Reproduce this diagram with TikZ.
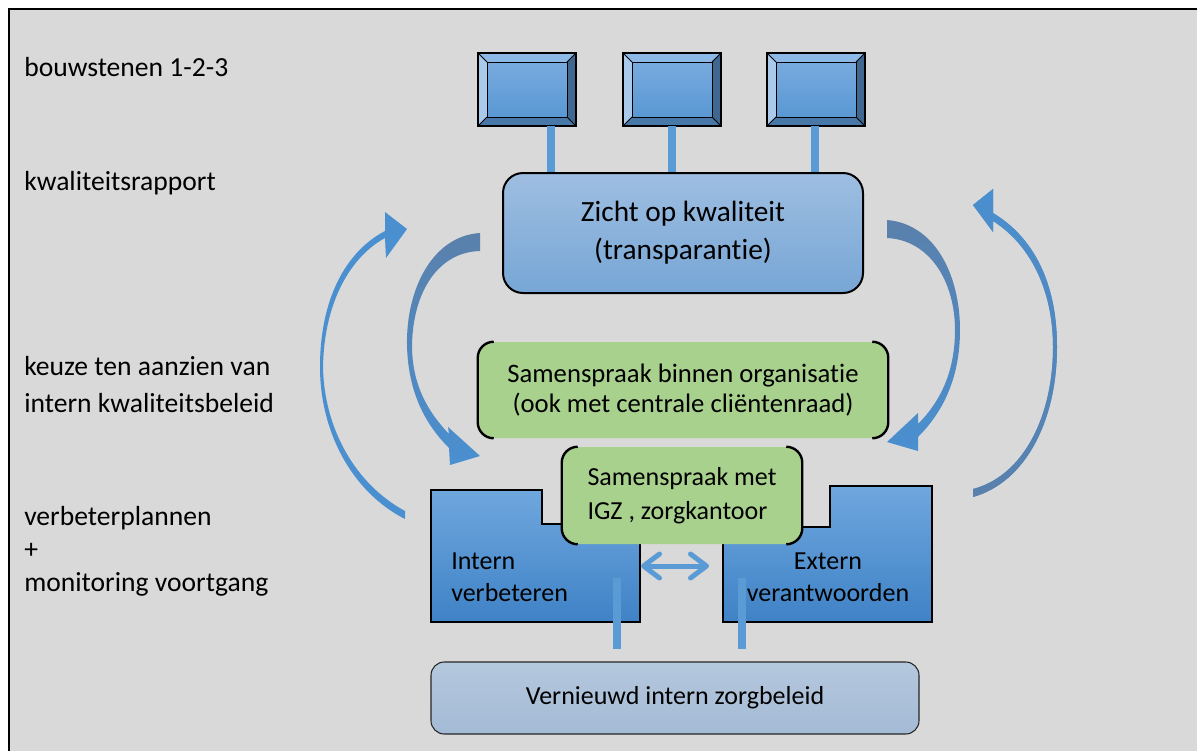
\documentclass[tikz,border=0pt]{standalone}
\usepackage{fontspec}
\setmainfont{Carlito}[Ligatures={NoCommon}]
\usetikzlibrary{positioning, arrows.meta}

\definecolor{achtergrond}{HTML}{D9D9D9}
\definecolor{steel}{HTML}{5B9BD5}
\definecolor{boogblauw}{HTML}{4A8FD0}
\definecolor{boogdonker}{HTML}{5A80AB}
\definecolor{zichtboven}{HTML}{9EBEE1}
\definecolor{zichtonder}{HTML}{77A6D5}
\definecolor{groen}{HTML}{A9D18E}
\definecolor{mapboven}{HTML}{6FA7DE}
\definecolor{maponder}{HTML}{3F82C6}
\definecolor{beleidboven}{HTML}{B4C8DD}
\definecolor{beleidonder}{HTML}{A4BBD6}
\definecolor{schermboven}{HTML}{7DAEE0}
\definecolor{schermonder}{HTML}{5494D2}
\definecolor{randlicht}{HTML}{A9CAEB}
\definecolor{randboven}{HTML}{8DB9E6}
\definecolor{randrechts}{HTML}{3F6790}
\definecolor{randonder}{HTML}{4878A8}

\tikzset{
  scherm/.style={anchor=north west, minimum width=73.5pt, minimum height=54.75pt,
    inner sep=0pt, outer sep=0pt, top color=schermboven, bottom color=schermonder},
  steel/.style={draw=steel, line width=6pt},
  zichtblok/.style={draw=black, line width=1.5pt, rounded corners=15pt,
    top color=zichtboven, bottom color=zichtonder, align=center,
    minimum width=270pt, minimum height=90pt},
  groenblok/.style={fill=groen, rounded corners=12pt, align=center},
  haak/.style={draw=black, line width=1.8pt, rounded corners=12pt},
  map/.style={draw=black, line width=0.9pt, top color=mapboven, bottom color=maponder},
  beleidblok/.style={draw=black!85, line width=0.8pt, rounded corners=10pt,
    top color=beleidboven, bottom color=beleidonder,
    minimum width=366pt, minimum height=54pt},
  boogdik/.style={top color=boogdonker, bottom color=boogblauw},
  boogdun/.style={fill=boogblauw},
  dubbel/.style={draw=steel, line width=3.75pt,
    {Straight Barb[length=12pt,width=18pt,round]}-{Straight Barb[length=12pt,width=18pt,round]}},
  zijtekst/.style={anchor=base west, inner sep=0pt, font=\fontsize{20.7pt}{26pt}\selectfont},
  lead/.style 2 args={font=\fontsize{#1}{#2}\selectfont}
}

\begin{document}
\begin{tikzpicture}[x=0.75pt, y=0.75pt, every node/.style={font=\fontsize{19.5pt}{24pt}\selectfont}]
  \useasboundingbox (0,0) rectangle (1197,-751);
  \fill[white] (0,0) rectangle (1197,-751);
  \fill[achtergrond] (9,-9) rectangle (1197,-751);
  \draw[line width=1.9pt] (9,-751) -- (9,-9) -- (1197,-9);

  % zijteksten
  \foreach \ly/\lt [count=\i] in {76/bouwstenen 1-2-3, 190/kwaliteitsrapport,
      375/keuze ten aanzien van, 412/intern kwaliteitsbeleid,
      525/verbeterplannen, 558/+, 591/monitoring voortgang}
    \node[zijtekst] (zij\i) at (24,-\ly) {\lt};

  % transparantie
  \node[zichtblok, lead={22pt}{28.5pt}] (zicht) at (683,-233) {Zicht op kwaliteit\\(transparantie)};

  % bouwstenen
  \foreach \n/\mx/\dx in {1/478/24, 2/623/0, 3/767/-1} {
    \node[scherm] (mon\n) at (\mx,-53) {};
    \fill[randboven] (mon\n.north west) -- (mon\n.north east) -- ([shift={(-9,-9)}]mon\n.north east) -- ([shift={(9,-9)}]mon\n.north west) -- cycle;
    \fill[randlicht] (mon\n.north west) -- ([shift={(9,-9)}]mon\n.north west) -- ([shift={(9,9)}]mon\n.south west) -- (mon\n.south west) -- cycle;
    \fill[randrechts] (mon\n.north east) -- (mon\n.south east) -- ([shift={(-9,9)}]mon\n.south east) -- ([shift={(-9,-9)}]mon\n.north east) -- cycle;
    \fill[randonder] (mon\n.south west) -- (mon\n.south east) -- ([shift={(-9,9)}]mon\n.south east) -- ([shift={(9,9)}]mon\n.south west) -- cycle;
    \draw[line width=0.6pt] ([shift={(9,-9)}]mon\n.north west) rectangle ([shift={(-9,9)}]mon\n.south east);
    \draw[line width=0.6pt] (mon\n.north west) -- ([shift={(9,-9)}]mon\n.north west)
      (mon\n.north east) -- ([shift={(-9,-9)}]mon\n.north east)
      (mon\n.south west) -- ([shift={(9,9)}]mon\n.south west)
      (mon\n.south east) -- ([shift={(-9,9)}]mon\n.south east);
    \draw[line width=1.1pt] (mon\n.north west) rectangle (mon\n.south east);
    \draw[steel] ([shift={(\dx,0)}]mon\n.south) -- ([shift={(\dx,0)}]mon\n.south |- zicht.north);
  }

  % kringloop
  \path[boogdik] (480,-233) .. controls (432,-236) and (406,-290) .. (407,-345)
    .. controls (408,-392) and (425,-424) .. (449,-448) -- (450,-465) -- (480,-456)
    -- (448,-427) -- (449,-434) .. controls (428,-412) and (412,-385) .. (412,-345)
    .. controls (413,-292) and (438,-252) .. (480,-251) -- cycle;
  \path[boogdik] (887,-220) .. controls (935,-224) and (960,-275) .. (960,-330)
    .. controls (960,-378) and (943,-412) .. (918,-437) -- (918,-451) -- (887,-442)
    -- (918,-413) -- (918,-424) .. controls (940,-402) and (955,-372) .. (955,-330)
    .. controls (955,-282) and (930,-240) .. (887,-238) -- cycle;
  \path[boogdun] (405,-519) .. controls (352,-492) and (320,-432) .. (320,-367)
    .. controls (320,-300) and (345,-252) .. (385,-231) -- (385,-212) -- (407,-229)
    -- (386,-258) -- (385,-238) .. controls (350,-257) and (324,-303) .. (323,-367)
    .. controls (324,-428) and (355,-484) .. (405,-511) -- cycle;
  \path[boogdun, top color=boogblauw, bottom color=boogdonker] (973,-497)
    .. controls (1026,-482) and (1057,-420) .. (1057,-347)
    .. controls (1057,-282) and (1033,-237) .. (993,-213) -- (993,-189) -- (973,-205)
    -- (993,-232) -- (993,-221) .. controls (1028,-243) and (1053,-287) .. (1053,-347)
    .. controls (1053,-417) and (1023,-476) .. (973,-489) -- cycle;

  % binnen organisatie
  \node[groenblok, lead={20pt}{22.5pt}, minimum width=307.5pt, minimum height=72pt] (overleg) at (683,-390)
    {Samenspraak binnen organisatie\\(ook met centrale cliëntenraad)};
  \draw[haak] ([xshift=12pt]overleg.north west) -- (overleg.north west) -- (overleg.south west) -- ([xshift=12pt]overleg.south west);
  \draw[haak] ([xshift=-12pt]overleg.north east) -- (overleg.north east) -- (overleg.south east) -- ([xshift=-12pt]overleg.south east);

  % intern en extern
  \path[map] (431,-490) -- (542,-490) -- (542,-524) -- (640,-524) -- (640,-622) -- (431,-622) -- cycle;
  \path[map] (723,-527) -- (830,-527) -- (830,-486) -- (932,-486) -- (932,-622) -- (723,-622) -- cycle;
  \node[lead={19.5pt}{24pt}, align=left, anchor=west, inner sep=0pt] (intern) at (451,-577) {Intern\\verbeteren};
  \node[lead={19.5pt}{24pt}, align=center, inner sep=0pt] (extern) at (828,-577) {Extern\\verantwoorden};

  \coordinate (pl) at (641,-566);
  \coordinate (pr) at (709,-566);
  \draw[dubbel] (pl) -- (pr);

  \coordinate (s1) at (617,-578);
  \coordinate (s1b) at (617,-649);
  \coordinate (s2) at (742,-578);
  \coordinate (s2b) at (742,-649);
  \draw[steel] (s1) -- (s1b);
  \draw[steel] (s2) -- (s2b);

  % extern overleg
  \node[groenblok, lead={19.5pt}{25.5pt}, align=left, minimum width=180pt, minimum height=72.75pt] (igz) at (682,-495.5)
    {Samenspraak met\\IGZ , zorgkantoor};
  \draw[haak] ([xshift=12pt]igz.north west) -- (igz.north west) -- (igz.south west) -- ([xshift=12pt]igz.south west);
  \draw[haak] ([xshift=-12pt]igz.north east) -- (igz.north east) -- (igz.south east) -- ([xshift=-12pt]igz.south east);

  % resultaat
  \node[beleidblok] (beleid) at (675,-698) {Vernieuwd intern zorgbeleid};
\end{tikzpicture}
\end{document}
